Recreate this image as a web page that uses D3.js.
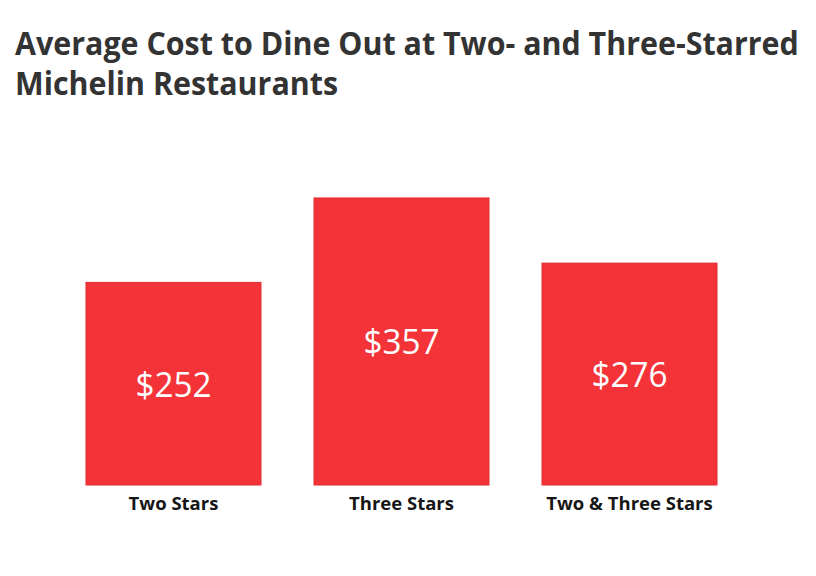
<!DOCTYPE html>
<html>
<head>
<meta charset="utf-8">
<script src="https://cdn.jsdelivr.net/npm/d3@7"></script>
<style>
  html, body { margin: 0; padding: 0; background: #fff; }
  svg { display: block; }
</style>
</head>
<body>
<svg id="chart" width="816" height="576"></svg>
<script>
const titleLines = ["Average Cost to Dine Out at Two- and Three-Starred", "Michelin Restaurants"];
const categories = ["Two Stars", "Three Stars", "Two & Three Stars"];
const values = [252, 357, 276];
const valueLabels = ["$252", "$357", "$276"];

const svg = d3.select("#chart");

// title: horizontally condensed via transform so that line 1 spans ~784px
const title = svg.append("g");
const tLine1 = title.append("text").text(titleLines[0]);
const tLine2 = title.append("text").text(titleLines[1]);
title.selectAll("text")
  .attr("x", 0).attr("y", 0)
  .attr("font-family", "'Open Sans', 'Noto Sans', sans-serif")
  .attr("font-weight", 700)
  .attr("font-size", 32)
  .attr("fill", "#333333");
const n1 = tLine1.node().getComputedTextLength();
const f = 784 / n1;
tLine1.attr("transform", `translate(15,55) scale(${f},1)`);
tLine2.attr("transform", `translate(15,95) scale(${f},1)`);

// scales
const x = d3.scaleBand()
  .domain(categories)
  .range([86, 717])
  .paddingInner(0.2325)
  .paddingOuter(0);

const y = d3.scaleLinear()
  .domain([0, 400])
  .range([485, 163.4]);

const data = categories.map((c, i) => ({ cat: c, v: values[i], label: valueLabels[i] }));

// bars
svg.append("g").selectAll("rect")
  .data(data)
  .join("rect")
  .attr("x", d => x(d.cat))
  .attr("y", d => y(d.v))
  .attr("width", x.bandwidth())
  .attr("height", d => y(0) - y(d.v))
  .attr("fill", "#f43339")
  .attr("stroke", "#e02c33")
  .attr("stroke-width", 1);

// value labels
svg.append("g").selectAll("text")
  .data(data)
  .join("text")
  .attr("x", d => x(d.cat) + x.bandwidth() / 2)
  .attr("y", d => (y(d.v) + y(0)) / 2 + 13)
  .attr("text-anchor", "middle")
  .attr("font-family", "'Open Sans', 'Noto Sans', sans-serif")
  .attr("font-size", 35)
  .attr("fill", "#ffffff")
  .text(d => d.label)
  .each(function () {
    const w = this.getComputedTextLength();
    d3.select(this).attr("textLength", w * 0.95).attr("lengthAdjust", "spacingAndGlyphs");
  });

// category axis labels
const xAxis = d3.axisBottom(x).tickSize(0).tickPadding(12);
const axisG = svg.append("g")
  .attr("transform", `translate(0, ${y(0)})`)
  .call(xAxis);
axisG.select(".domain").remove();
axisG.selectAll("text")
  .attr("font-family", "'Open Sans', 'Noto Sans', sans-serif")
  .attr("font-weight", 700)
  .attr("font-size", 18.5)
  .attr("fill", "#161616")
  .attr("dy", "0")
  .attr("y", 25);
</script>
</body>
</html>
